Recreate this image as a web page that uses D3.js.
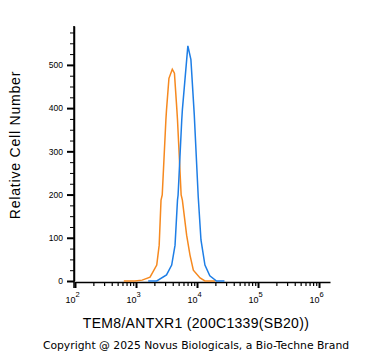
<!DOCTYPE html>
<html>
<head>
<meta charset="utf-8">
<script src="https://cdn.jsdelivr.net/npm/d3@7"></script>
<style>
  body { margin: 0; background: #fff; }
  text { font-family: "Liberation Sans", Arial, sans-serif; }
</style>
</head>
<body>
<script>
// size variables
var width = 371, height = 351;

// data: log10 of fluorescence and cell counts
var orangeLog = [2.80, 2.98, 3.10, 3.23, 3.34, 3.38, 3.41, 3.43, 3.49, 3.50, 3.54, 3.595, 3.63, 3.67, 3.68, 3.74, 3.76, 3.83, 3.885, 3.94, 4.05, 4.13, 4.30];
var orangeCount = [0, 0, 2, 9, 37, 83, 187, 199, 373, 396, 469, 490, 481, 396, 373, 199, 187, 106, 60, 25, 7, 0, 0];
var blueLog = [3.20, 3.34, 3.50, 3.585, 3.64, 3.68, 3.69, 3.75, 3.76, 3.85, 3.90, 3.955, 4.02, 4.065, 4.13, 4.21, 4.32, 4.45];
var blueCount = [0, 0, 14, 37, 83, 187, 199, 373, 396, 544, 512, 385, 195, 95, 37, 12, 0, 0];

var yTicks = [0, 100, 200, 300, 400, 500];
var xDecades = [2, 3, 4, 5, 6];

var svg = d3.select('body').append('svg').attr('width', width).attr('height', height);

// scales
var x = d3.scaleLog().domain([100, Math.pow(10, 6.18)]).range([75, 330]);
var y = d3.scaleLinear().domain([0, 590]).range([281, 26]);

// y axis
var yMinor = d3.range(0, 590, 25).filter(function(d) { return d % 100 !== 0; });
svg.append('g').attr('transform', 'translate(74,0)')
  .call(d3.axisLeft(y).tickValues(yMinor).tickSize(4).tickFormat(''))
  .call(function(g) { g.select('.domain').remove(); g.selectAll('line').attr('stroke-width', 1); });
svg.append('g').attr('transform', 'translate(74,0)')
  .call(d3.axisLeft(y).tickValues(yTicks).tickSize(7).tickSizeOuter(0).tickPadding(4))
  .call(function(g) {
    g.select('.domain').attr('stroke-width', 1.5);
    g.selectAll('line').attr('stroke-width', 2);
    g.selectAll('text').attr('font-size', '8.5px').attr('fill', '#000');
  });
svg.append('line').attr('x1', 74).attr('x2', 74).attr('y1', 26).attr('y2', 288)
  .attr('stroke', '#000').attr('stroke-width', 1.5);

// x axis
var xMinor = [];
xDecades.forEach(function(e) {
  for (var m = 2; m < 10; m++) xMinor.push(m * Math.pow(10, e));
});
xMinor = xMinor.filter(function(d) { return d < x.domain()[1]; });
svg.append('g').attr('transform', 'translate(0,282)')
  .call(d3.axisBottom(x).tickValues(xMinor).tickSize(4).tickFormat(''))
  .call(function(g) { g.select('.domain').remove(); g.selectAll('line').attr('stroke-width', 1.2); });
var xg = svg.append('g').attr('transform', 'translate(0,282)')
  .call(d3.axisBottom(x).tickValues(xDecades.map(function(e) { return Math.pow(10, e); }))
    .tickSize(6).tickSizeOuter(0).tickFormat(''))
  .call(function(g) {
    g.select('.domain').attr('stroke-width', 1.5);
    g.selectAll('line').attr('stroke-width', 2);
  });
xg.selectAll('.tick').append('text')
  .attr('y', 21).attr('fill', '#000').attr('font-size', '9px')
  .attr('text-anchor', 'middle')
  .each(function(d) {
    var t = d3.select(this);
    t.append('tspan').attr('dx', '-3').text('10');
    t.append('tspan').attr('dy', '-6').attr('font-size', '7.5px').text(Math.round(Math.log10(d)));
  });

// curves
var line = d3.line()
  .x(function(d) { return x(Math.pow(10, d[0])); })
  .y(function(d) { return y(d[1]); })
  .curve(d3.curveLinear);

svg.append('path').datum(d3.zip(orangeLog, orangeCount))
  .attr('d', line).attr('fill', 'none').attr('stroke', '#f6891f').attr('stroke-width', 1.5);
svg.append('path').datum(d3.zip(blueLog, blueCount))
  .attr('d', line).attr('fill', 'none').attr('stroke', '#1e7ee6').attr('stroke-width', 1.5);

// titles
svg.append('text').attr('x', 196).attr('y', 328).attr('text-anchor', 'middle')
  .attr('font-size', '14px').attr('letter-spacing', '0.3px').text('TEM8/ANTXR1 (200C1339(SB20))');
svg.append('text').attr('transform', 'translate(20,145) rotate(-90)').attr('text-anchor', 'middle')
  .attr('font-size', '14px').attr('letter-spacing', '0.8px').text('Relative Cell Number');
svg.append('text').attr('x', 196).attr('y', 349).attr('text-anchor', 'middle')
  .style('font-family', '"DejaVu Sans", sans-serif')
  .attr('font-size', '10.8px').text('Copyright @ 2025 Novus Biologicals, a Bio-Techne Brand');
</script>
</body>
</html>
